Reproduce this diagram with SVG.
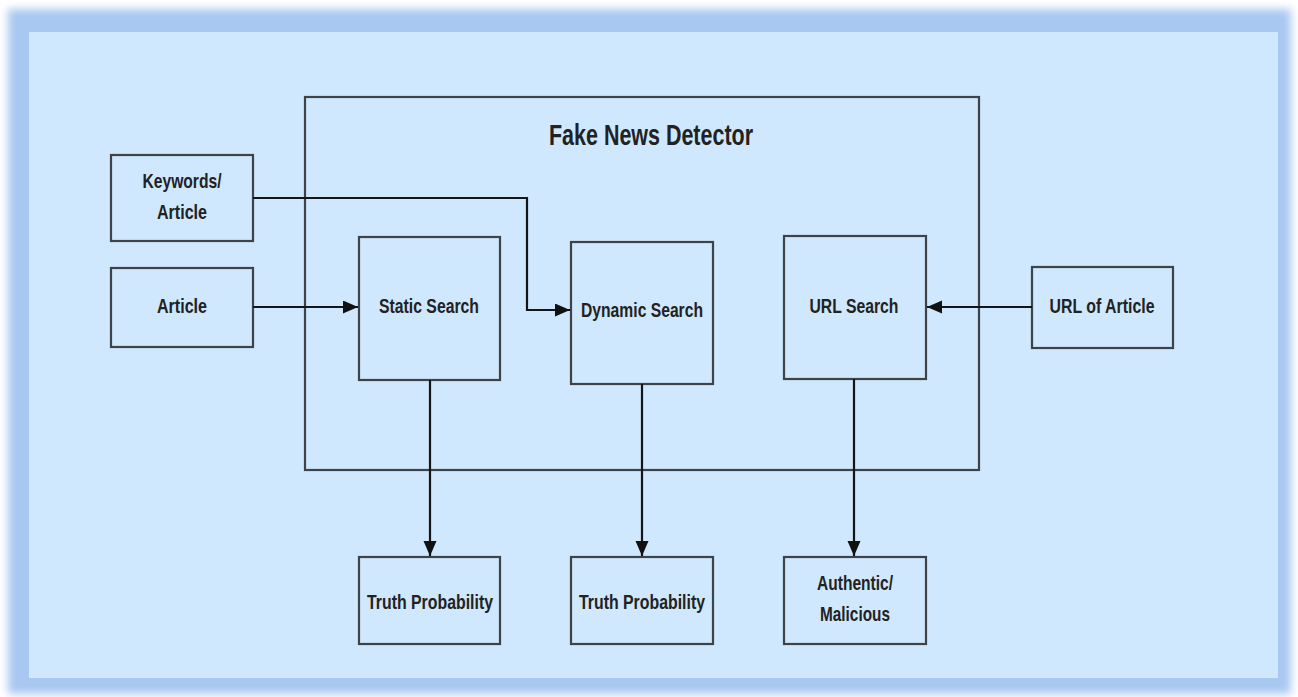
<svg xmlns="http://www.w3.org/2000/svg" width="1298" height="697" viewBox="0 0 1298 697">
<defs>
<filter id="blur" x="-5%" y="-5%" width="110%" height="110%"><feGaussianBlur stdDeviation="4"/></filter>
<marker id="arr" markerUnits="userSpaceOnUse" markerWidth="16" markerHeight="14" refX="15" refY="6.5" orient="auto"><path d="M0,0 L15,6.5 L0,13 z" fill="#111"/></marker>
</defs>
<style>
.box{fill:none;stroke:#3d4349;stroke-width:2.2}
.lbl{font-family:"Liberation Sans",Arial,sans-serif;font-weight:bold;font-size:21px;fill:#222;text-anchor:middle}
.title{font-size:29px}
.conn{fill:none;stroke:#151515;stroke-width:2.2}
</style>
<rect width="1298" height="697" fill="#ffffff"/>
<rect x="8" y="9" width="1283" height="685" fill="#a8c8f1" filter="url(#blur)"/>
<rect x="29" y="32" width="1249" height="646" fill="#cfe8fd"/>

<g id="detector">
<rect class="box" x="305" y="97" width="674" height="373"/>
<text class="lbl title" x="651" y="145" textLength="204" lengthAdjust="spacingAndGlyphs">Fake News Detector</text>
</g>
<g id="keywords">
<rect class="box" x="111" y="155" width="142" height="86"/>
<text class="lbl" x="182" y="188" textLength="79" lengthAdjust="spacingAndGlyphs">Keywords/</text>
<text class="lbl" x="182" y="219" textLength="50" lengthAdjust="spacingAndGlyphs">Article</text>
</g>
<g id="article">
<rect class="box" x="111" y="268" width="142" height="79"/>
<text class="lbl" x="182" y="313" textLength="50" lengthAdjust="spacingAndGlyphs">Article</text>
</g>
<g id="static">
<rect class="box" x="359" y="237" width="141" height="143"/>
<text class="lbl" x="429" y="313" textLength="100" lengthAdjust="spacingAndGlyphs">Static Search</text>
</g>
<g id="dynamic">
<rect class="box" x="571" y="242" width="142" height="142"/>
<text class="lbl" x="642" y="317" textLength="122" lengthAdjust="spacingAndGlyphs">Dynamic Search</text>
</g>
<g id="url">
<rect class="box" x="784" y="236" width="142" height="143"/>
<text class="lbl" x="854" y="313" textLength="89" lengthAdjust="spacingAndGlyphs">URL Search</text>
</g>
<g id="urlarticle">
<rect class="box" x="1032" y="267" width="141" height="81"/>
<text class="lbl" x="1102" y="313" textLength="105" lengthAdjust="spacingAndGlyphs">URL of Article</text>
</g>
<g id="truth1">
<rect class="box" x="359" y="557" width="141" height="87"/>
<text class="lbl" x="430" y="609" textLength="126" lengthAdjust="spacingAndGlyphs">Truth Probability</text>
</g>
<g id="truth2">
<rect class="box" x="571" y="557" width="142" height="87"/>
<text class="lbl" x="642" y="609" textLength="126" lengthAdjust="spacingAndGlyphs">Truth Probability</text>
</g>
<g id="authentic">
<rect class="box" x="784" y="557" width="142" height="87"/>
<text class="lbl" x="855" y="590" textLength="76" lengthAdjust="spacingAndGlyphs">Authentic/</text>
<text class="lbl" x="855" y="621" textLength="70" lengthAdjust="spacingAndGlyphs">Malicious</text>
</g>

<g id="connectors">
<path class="conn" d="M253,307 H358" marker-end="url(#arr)"/>
<path class="conn" d="M253,198 H527 V310 H570" marker-end="url(#arr)"/>
<path class="conn" d="M1032,307 H927" marker-end="url(#arr)"/>
<path class="conn" d="M430,380 V556" marker-end="url(#arr)"/>
<path class="conn" d="M642,384 V556" marker-end="url(#arr)"/>
<path class="conn" d="M854,379 V556" marker-end="url(#arr)"/>
</g>
</svg>
